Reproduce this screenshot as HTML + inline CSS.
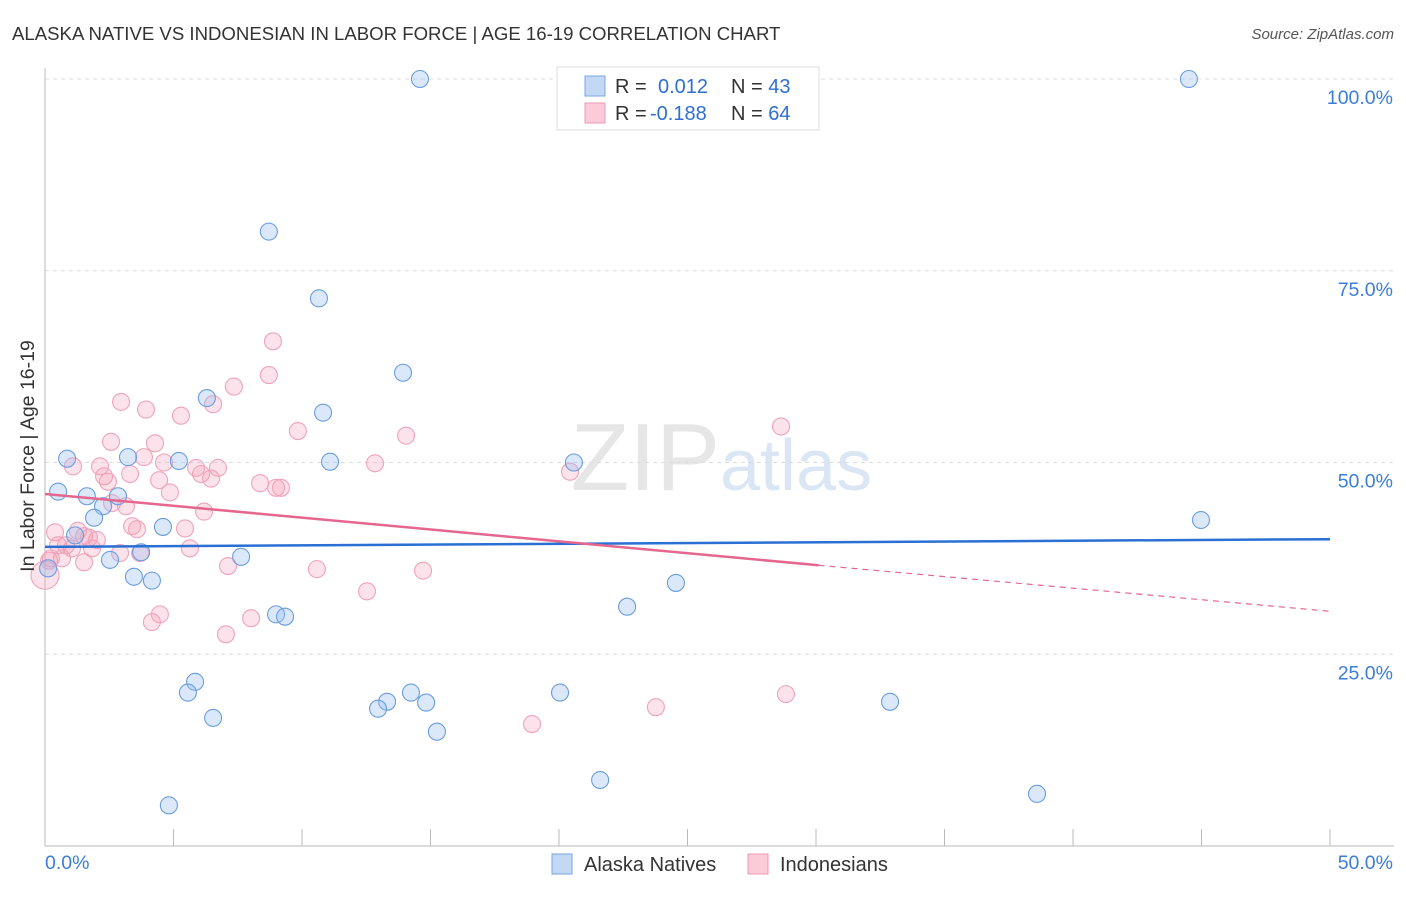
<!DOCTYPE html>
<html><head><meta charset="utf-8"><style>
body{margin:0;background:#fff;font-family:"Liberation Sans",sans-serif}
svg text{font-family:"Liberation Sans",sans-serif}
</style></head><body>
<svg id="c" width="1406" height="892" xmlns="http://www.w3.org/2000/svg">
<text x="12" y="40" font-size="18.6" fill="#333">ALASKA NATIVE VS INDONESIAN IN LABOR FORCE | AGE 16-19 CORRELATION CHART</text>
<text x="1394" y="39" font-size="15" fill="#555" text-anchor="end" font-style="italic">Source: ZipAtlas.com</text>
<text x="720" y="490" font-size="96" fill="#e6e6e6" text-anchor="end" font-family="Liberation Serif">ZIP</text>
<text x="720" y="490" font-size="72" fill="#dbe6f5">atlas</text>
<g id="grid"></g>
<g id="pts"></g>
<g id="trend"></g>
<text transform="translate(34,456) rotate(-90)" font-size="19.5" fill="#333" text-anchor="middle">In Labor Force | Age 16-19</text>
<g>
<rect x="557" y="67" width="262" height="63" fill="#fff" stroke="#ddd"/>
<rect x="585" y="76" width="20" height="20" fill="#c3d8f5" stroke="#7aa6e0"/>
<rect x="585" y="103" width="20" height="20" fill="#fbcbd8" stroke="#ee9ab4"/>
<text x="615" y="93" font-size="20" fill="#333">R = <tspan fill="#2f6fd0" x="658">0.012</tspan><tspan x="731" fill="#333">N = </tspan><tspan fill="#2f6fd0">43</tspan></text>
<text x="615" y="120" font-size="20" fill="#333">R = <tspan fill="#2f6fd0" x="650">-0.188</tspan><tspan x="731" fill="#333">N = </tspan><tspan fill="#2f6fd0">64</tspan></text>
</g>
<g>
<rect x="552" y="854" width="20" height="20" fill="#c3d8f5" stroke="#7aa6e0"/>
<text x="584" y="871" font-size="20" fill="#333">Alaska Natives</text>
<rect x="748" y="854" width="20" height="20" fill="#fbcbd8" stroke="#ee9ab4"/>
<text x="780" y="871" font-size="20" fill="#333">Indonesians</text>
</g>
</svg>
<script>
const yTicks=[25,50,75,100];
const yTickLabels=["25.0%","50.0%","75.0%","100.0%"];
const xTickLabels=["0.0%","50.0%"];
const blueX=[14.59,44.51,8.71,10.66,13.93,10.82,6.30,0.86,3.23,5.21,11.09,20.58,0.51,1.63,2.84,2.26,1.91,4.59,44.98,1.17,3.74,2.53,7.63,0.12,3.46,4.16,24.55,22.65,8.99,9.34,5.84,5.56,14.24,20.04,32.88,13.31,14.83,12.96,6.54,15.25,21.60,38.60,4.82];
const blueY=[100,100,80.1,71.4,61.7,56.5,58.4,50.5,50.7,50.2,50.1,50.0,46.2,45.6,45.6,44.3,42.8,41.6,42.5,40.5,38.3,37.3,37.7,36.2,35.1,34.6,34.3,31.2,30.2,29.9,21.4,20.0,20.0,20.0,18.8,18.8,18.7,17.9,16.7,14.9,8.6,6.8,5.3];
const pinkX=[0,0.39,1.05,0.82,1.28,1.52,1.83,0.66,1.52,0.23,1.71,1.09,2.14,2.30,2.45,2.61,2.92,3.15,3.31,3.39,3.58,3.70,3.85,3.93,2.96,2.57,4.28,4.44,4.47,4.16,4.63,4.86,5.29,5.45,5.64,5.88,6.07,6.19,6.46,6.54,6.73,7.12,7.04,7.35,8.02,8.37,8.71,8.87,8.99,9.18,9.84,10.58,12.53,12.84,14.05,14.71,18.95,20.43,23.77,28.64,28.83,0.16,0.51,2.02];
const pinkY=[35.3,40.9,38.8,39.2,41.1,40.4,38.8,37.5,37.0,37.5,40.2,49.5,49.5,48.2,47.5,44.7,38.2,44.3,48.5,41.7,41.3,38.2,50.7,56.9,57.9,52.7,52.5,47.7,30.2,29.2,50.0,46.1,56.1,41.4,38.8,49.3,48.5,43.6,47.9,57.6,49.3,36.5,27.6,59.9,29.7,47.3,61.4,65.8,46.7,46.7,54.1,36.1,33.2,49.9,53.5,35.9,15.9,48.8,18.1,54.7,19.8,37.2,39.2,39.9];
const NS='http://www.w3.org/2000/svg';
const X0=45,X1=1330,Y0=846,Y100=79;
const xs=v=>X0+(v/50)*(X1-X0);
const ys=v=>Y0-(v/100)*(Y0-Y100);
function mk(p,t,a){const e=document.createElementNS(NS,t);for(const k in a)e.setAttribute(k,a[k]);p.appendChild(e);return e;}
const grid=document.getElementById('grid');
yTicks.forEach((t,i)=>{
 const l=mk(grid,'line',{x1:X0,x2:1394,y1:ys(t),y2:ys(t),stroke:'#ddd','stroke-dasharray':'4,4'});
 
 
 const tx=mk(grid,'text',{x:1393,y:ys(t)+25,'font-size':19.5,fill:'#3b7dd8','text-anchor':'end'});
 tx.textContent=yTickLabels[i];
 
 
});
const ax=mk(grid,'line',{x1:X0,x2:X0,y1:68,y2:846,stroke:'#bbb'});


const bx=mk(grid,'line',{x1:X0,x2:1394,y1:846,y2:846,stroke:'#bbb'});


for(let i=0;i<=10;i++){const x=xs(i*5);const t=mk(grid,'line',{x1:x,x2:x,y1:829,y2:846,stroke:'#bbb'});
 
 }
[[0,'start',45],[50,'end',1393]].forEach((d,i)=>{const t=mk(grid,'text',{x:d[2],y:869,'font-size':19.5,fill:'#3b7dd8','text-anchor':d[1]});t.textContent=xTickLabels[i];
 
 });
const pts=document.getElementById('pts');
pinkX.forEach((v,i)=>{const c=mk(pts,'circle',{cx:xs(v),cy:ys(pinkY[i]),r:i==0?14:8.5,fill:'rgba(246,160,185,0.3)',stroke:'#f0a3ba','stroke-width':1.1});
 
 });
blueX.forEach((v,i)=>{const c=mk(pts,'circle',{cx:xs(v),cy:ys(blueY[i]),r:8.5,fill:'rgba(150,190,240,0.35)',stroke:'#6a9de0','stroke-width':1.1});
 
 });
const tr=document.getElementById('trend');
const b=mk(tr,'line',{x1:xs(0),y1:ys(39),x2:xs(50),y2:ys(40),stroke:'#2a6fd4','stroke-width':2.5});


const p=mk(tr,'line',{x1:xs(0),y1:ys(45.9),x2:xs(30.1),y2:ys(36.6),stroke:'#e5668e','stroke-width':2.5});


const pd=mk(tr,'line',{x1:xs(30.1),y1:ys(36.6),x2:xs(50),y2:ys(30.6),stroke:'#e5668e','stroke-width':1.2,'stroke-dasharray':'6,5'});


</script>
</body></html>
